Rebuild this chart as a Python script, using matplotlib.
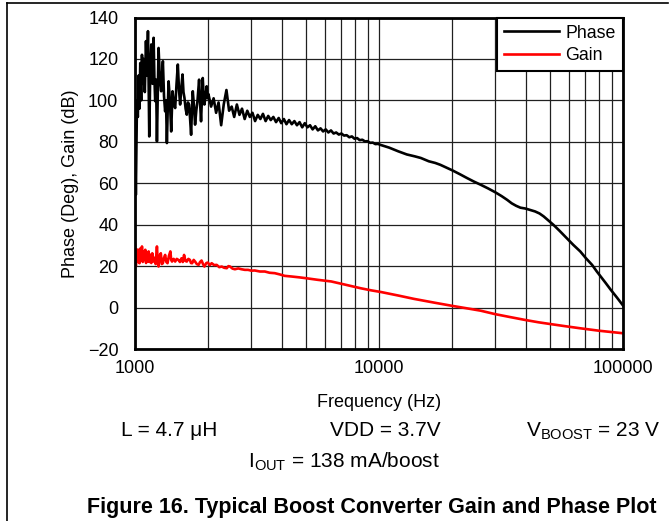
import matplotlib
matplotlib.use("Agg")
import matplotlib.pyplot as plt
import matplotlib.ticker as mticker
from matplotlib.lines import Line2D

plt.rcParams['font.family'] = ['Liberation Sans', 'DejaVu Sans']

# Phase data (Hz, degrees)
phase_freq = [1000, 1008, 1019, 1027, 1035, 1043, 1051, 1060, 1068, 1076, 1085, 1097,
              1109, 1120, 1130, 1137, 1144, 1155, 1166, 1180, 1192, 1200, 1210, 1220,
              1230, 1240, 1249, 1265, 1280, 1290, 1301, 1315, 1329, 1340, 1351, 1362,
              1373, 1390, 1407, 1425, 1443, 1461, 1480, 1498, 1515, 1531, 1548, 1566,
              1580, 1595, 1612, 1630, 1648, 1665, 1680, 1698, 1712, 1725, 1745, 1763,
              1783, 1803, 1817, 1831, 1848, 1865, 1880, 1895, 1910, 1925, 1946, 1967,
              1985,
              2000, 2050, 2100, 2150, 2200, 2255, 2310, 2370, 2430, 2490, 2550, 2615,
              2680, 2745, 2815, 2885, 2955, 3030, 3105, 3185, 3265, 3345, 3430, 3515,
              3600, 3690, 3785, 3880, 3975, 4075, 4175, 4280, 4390, 4500, 4610, 4725,
              4845, 4965, 5090, 5215, 5345, 5480, 5620, 5760, 5900, 6050, 6200, 6355,
              6515, 6675, 6845, 7015, 7190, 7370, 7555, 7740, 7935, 8135, 8335, 8545,
              8760, 8980, 9200, 9430, 9670, 9910,
              10150, 11000, 12000, 13000, 14000, 14840, 16000, 17000, 17840, 19000,
              20000, 21500, 22960, 24500, 26080, 28000, 30000, 31800, 33500, 35000,
              36500, 38000, 39800, 41700, 43600, 45500, 47300, 49500, 51900, 55000,
              58800, 62500, 66800, 70500, 74700, 78000, 81000, 85000, 89200, 94500,
              100000]
phase_vals = [98.0, 54.4, 100.0, 92.0, 112.0, 96.0, 118.0, 100.0, 122.0, 108.0, 120.0, 104.0,
              128.6, 112.0, 133.4, 110.0, 82.6, 115.0, 127.0, 108.0, 130.2, 112.0, 99.6, 110.0,
              80.2, 104.0, 125.3, 110.0, 104.4, 112.0, 118.9, 102.0, 94.7, 100.0, 79.4, 96.0,
              109.2, 100.0, 85.0, 104.4, 98.0, 96.3, 108.0, 117.3, 105.0, 98.0, 106.0, 112.5,
              104.0, 101.2, 96.0, 93.1, 99.0, 98.0, 92.0, 83.4, 96.0, 104.4, 97.0, 88.3,
              95.0, 99.6, 105.0, 110.0, 99.0, 89.9, 100.0, 110.8, 103.0, 98.0, 102.0, 106.8,
              101.0,
              103.0, 97.0, 101.0, 94.0, 99.0, 88.0, 98.0, 105.0, 95.0, 97.0, 92.0, 98.0,
              93.0, 96.0, 91.0, 95.0, 92.0, 94.0, 90.0, 93.0, 91.0, 93.5, 90.0, 92.5,
              90.5, 92.0, 89.5, 91.5, 89.0, 91.0, 88.5, 90.5, 88.5, 90.0, 88.0, 89.5,
              87.0, 89.0, 87.0, 88.0, 86.0, 87.5, 85.5, 86.5, 85.0, 86.0, 84.5, 85.5,
              84.0, 84.5, 83.5, 84.0, 83.0, 83.2, 82.2, 82.6, 81.5, 81.8, 80.8, 81.0,
              80.2, 80.3, 79.5, 79.6, 78.9, 79.0,
              78.5, 77.2, 75.4, 73.9, 73.0, 72.2, 70.6, 69.8, 68.9, 67.4,
              66.2, 64.3, 62.5, 60.8, 59.3, 57.5, 55.6, 53.8, 52.0, 50.3,
              49.1, 48.2, 47.8, 47.1, 46.4, 45.4, 44.0, 42.0, 39.9, 37.0,
              33.5, 30.3, 27.1, 23.8, 20.6, 17.5, 15.0, 11.8, 8.5, 4.8,
              1.0]

# Gain data (Hz, dB)
gain_freq = [1000, 1008, 1019, 1027, 1035, 1043, 1051, 1060, 1068, 1076, 1085, 1094,
             1102, 1110, 1119, 1128, 1137, 1146, 1155, 1166, 1177, 1190, 1203, 1215,
             1230, 1240, 1249, 1262, 1276, 1288, 1301, 1315, 1329, 1344, 1359, 1378,
             1396, 1407, 1418, 1440, 1461, 1483, 1506, 1528, 1551, 1570, 1589, 1610,
             1630, 1655, 1679, 1696, 1714, 1740, 1763, 1792, 1822, 1848, 1874, 1900,
             1925, 1960, 1989, 2025, 2062, 2110, 2162, 2215, 2267, 2320, 2377, 2415,
             2452, 2510, 2567, 2650, 2731, 2820, 2906, 3000, 3096, 3250, 3404, 3560,
             3739, 3920, 4108, 4373, 4700, 5000, 5600, 6370, 7300, 8430, 9300, 10190,
             12000, 13900, 16800, 20000, 23000, 26080, 30000, 34500, 39800, 45000,
             50000, 58000, 66800, 80000, 100000]
gain_vals = [30.3, 20.0, 28.0, 22.0, 27.9, 21.4, 28.5, 23.0, 29.5, 22.0, 27.0, 23.0,
             27.9, 21.5, 26.0, 22.2, 27.1, 22.0, 25.5, 21.5, 26.2, 22.2, 24.0, 21.0,
             29.5, 22.0, 19.8, 25.0, 26.2, 21.0, 21.4, 24.0, 25.4, 22.0, 21.4, 25.0,
             27.1, 23.0, 22.2, 23.5, 22.2, 23.5, 23.0, 22.0, 23.8, 22.0, 25.4, 22.5,
             22.2, 23.5, 23.0, 21.5, 21.4, 23.0, 22.2, 21.0, 20.6, 22.0, 22.7, 21.0,
             19.8, 21.5, 21.7, 20.5, 21.4, 20.5, 20.6, 19.5, 19.8, 19.2, 19.0, 20.0,
             19.8, 18.8, 18.5, 18.9, 18.5, 18.2, 18.2, 17.8, 17.9, 17.4, 17.4, 16.8,
             16.6, 16.0, 15.3, 15.0, 14.6, 14.2, 13.4, 12.6, 11.0, 9.3, 8.3, 7.5,
             5.8, 4.2, 2.4, 0.8, -0.4, -1.5, -3.2, -4.6, -6.0, -7.1,
             -7.9, -9.0, -10.0, -11.2, -12.4]

yticks = [-20, 0, 20, 40, 60, 80, 100, 120, 140]
xticks = [1000, 10000, 100000]
xtick_labels = ['1000', '10000', '100000']

fig = plt.figure(figsize=(6.71, 5.21), dpi=100)
ax = fig.add_axes([135 / 671, 1 - 349 / 521, (623 - 135) / 671, (349 - 17.5) / 521])

ax.plot(phase_freq, phase_vals, color='black', lw=1.9, label='Phase', zorder=3)
ax.plot(gain_freq, gain_vals, color='#ff0000', lw=1.9, label='Gain', zorder=3)

ax.set_xscale('log')
ax.set_xlim(1000, 100000)
ax.set_ylim(-20, 140)
ax.set_yticks(yticks)
ax.set_yticklabels(['\u221220' if v == -20 else str(v) for v in yticks])
ax.set_xticks(xticks)
ax.set_xticklabels(xtick_labels)
ax.xaxis.set_minor_locator(mticker.LogLocator(base=10, subs=range(2, 10)))
ax.xaxis.set_minor_formatter(mticker.NullFormatter())
ax.yaxis.set_minor_locator(mticker.NullLocator())
ax.grid(True, which='major', color='#202020', lw=0.9)
ax.grid(True, which='minor', axis='x', color='#202020', lw=0.9)
ax.tick_params(which='both', length=0, labelsize=13)
ax.tick_params(axis='y', pad=12)
ax.tick_params(axis='x', pad=8)
for s in ax.spines.values():
    s.set_linewidth(2)
    s.set_zorder(5)

ax.set_xlabel('Frequency (Hz)', fontsize=13, labelpad=12)
ax.set_ylabel('Phase (Deg), Gain (dB)', fontsize=13, labelpad=6)

leg = ax.legend(loc='upper right', fontsize=12.8, frameon=True, fancybox=False,
                borderaxespad=0, handlelength=3.1, handletextpad=0.35,
                borderpad=0.4, labelspacing=0.3, framealpha=1)
leg.get_frame().set_edgecolor('black')
leg.get_frame().set_linewidth(1.5)
leg.set_zorder(6)

fig.text(169 / 671, 1 - 431 / 521, 'L = 4.7 \u03bcH', fontsize=15, ha='center', va='center')
fig.text(385 / 671, 1 - 431 / 521, 'VDD = 3.7V', fontsize=15, ha='center', va='center')
fig.text(593 / 671, 1 - 431 / 521, r'V$_{\mathregular{BOOST}}$ = 23 V', fontsize=15,
         ha='center', va='center')
fig.text(344 / 671, 1 - 462 / 521, r'I$_{\mathregular{OUT}}$ = 138 mA/boost', fontsize=15,
         ha='center', va='center')
fig.text(372 / 671, 1 - 507 / 521, 'Figure 16. Typical Boost Converter Gain and Phase Plot',
         fontsize=15.5, fontweight='bold', ha='center', va='center')

# figure frame lines
fig.add_artist(Line2D([7 / 671, 7 / 671], [0, 1 - 3 / 521], color='black', lw=1.2,
                      transform=fig.transFigure))
fig.add_artist(Line2D([7 / 671, 668 / 671], [1 - 3 / 521, 1 - 3 / 521], color='black', lw=1.2,
                      transform=fig.transFigure))

fig.savefig('out.png', dpi=100)
